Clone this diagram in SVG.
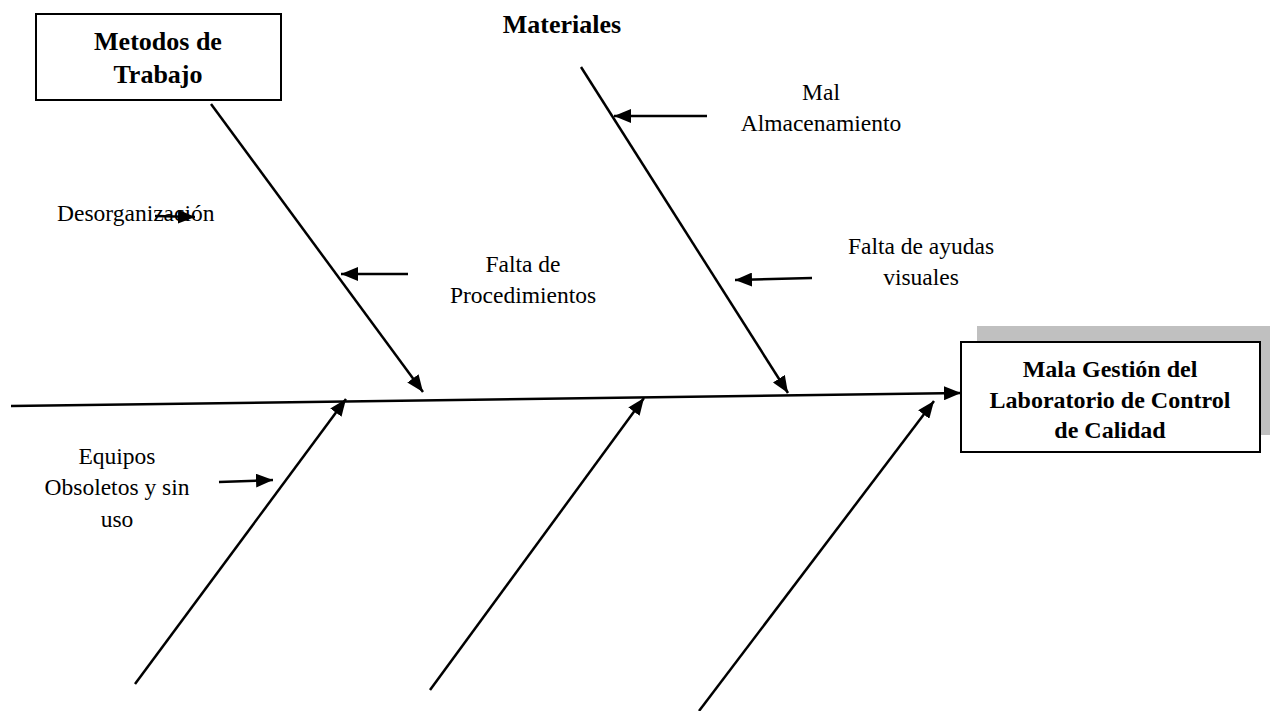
<svg xmlns="http://www.w3.org/2000/svg" width="1270" height="711" viewBox="0 0 1270 711">
<defs>
<marker id="ah" markerUnits="userSpaceOnUse" markerWidth="18" markerHeight="14" refX="17" refY="7" orient="auto">
<path d="M0,0 L17,7 L0,14 Z" fill="#000"/>
</marker>
<style>
.t{font-family:"Liberation Serif","Times New Roman",serif;font-size:23.5px;fill:#000;text-anchor:middle}
.b{font-family:"Liberation Serif","Times New Roman",serif;font-weight:bold;fill:#000;text-anchor:middle}
.ln{stroke:#000;stroke-width:2.2;fill:none}
.ar{stroke:#000;stroke-width:2.5;fill:none;marker-end:url(#ah)}
.box{fill:#fff;stroke:#000;stroke-width:2}
</style>
</defs>
<rect width="1270" height="711" fill="#fff"/>
<g id="connectors">
<line class="ar" x1="11" y1="406" x2="961" y2="393"/>
<line class="ar" x1="211" y1="104" x2="423" y2="392"/>
<line class="ar" x1="581" y1="67" x2="788" y2="393"/>
<line class="ar" x1="135" y1="684" x2="346" y2="399"/>
<line class="ar" x1="430" y1="690" x2="644" y2="398"/>
<line class="ar" x1="699" y1="711" x2="934" y2="401"/>
<line class="ar" x1="155" y1="216" x2="195" y2="217"/>
<line class="ar" x1="408" y1="274" x2="341" y2="274"/>
<line class="ar" x1="707" y1="116" x2="614" y2="116"/>
<line class="ar" x1="812" y1="278" x2="735" y2="280"/>
<line class="ar" x1="219" y1="482" x2="273" y2="480"/>
</g>
<g id="metodos">
<rect class="box" x="36" y="14" width="245" height="86"/>
<text class="b" x="158" y="50" font-size="26">Metodos de</text>
<text class="b" x="158" y="83" font-size="26">Trabajo</text>
</g>
<g id="materiales">
<text class="b" x="562" y="33" font-size="26">Materiales</text>
</g>
<g id="efecto">
<rect x="977" y="326" width="293" height="109" fill="#c0c0c0"/>
<rect class="box" x="961" y="342" width="299" height="110"/>
<text class="b" x="1110" y="377" font-size="24">Mala Gestión del</text>
<text class="b" x="1110" y="408" font-size="24">Laboratorio de Control</text>
<text class="b" x="1110" y="438" font-size="24">de Calidad</text>
</g>
<g id="desorganizacion">
<text class="t" x="57" y="221" style="text-anchor:start">Desorganización</text>
</g>
<g id="falta-procedimientos">
<text class="t" x="523" y="272">Falta de</text>
<text class="t" x="523" y="303">Procedimientos</text>
</g>
<g id="mal-almacenamiento">
<text class="t" x="821" y="100">Mal</text>
<text class="t" x="821" y="131">Almacenamiento</text>
</g>
<g id="falta-ayudas">
<text class="t" x="921" y="254">Falta de ayudas</text>
<text class="t" x="921" y="285">visuales</text>
</g>
<g id="equipos">
<text class="t" x="117" y="464">Equipos</text>
<text class="t" x="117" y="495">Obsoletos y sin</text>
<text class="t" x="117" y="527">uso</text>
</g>
</svg>
